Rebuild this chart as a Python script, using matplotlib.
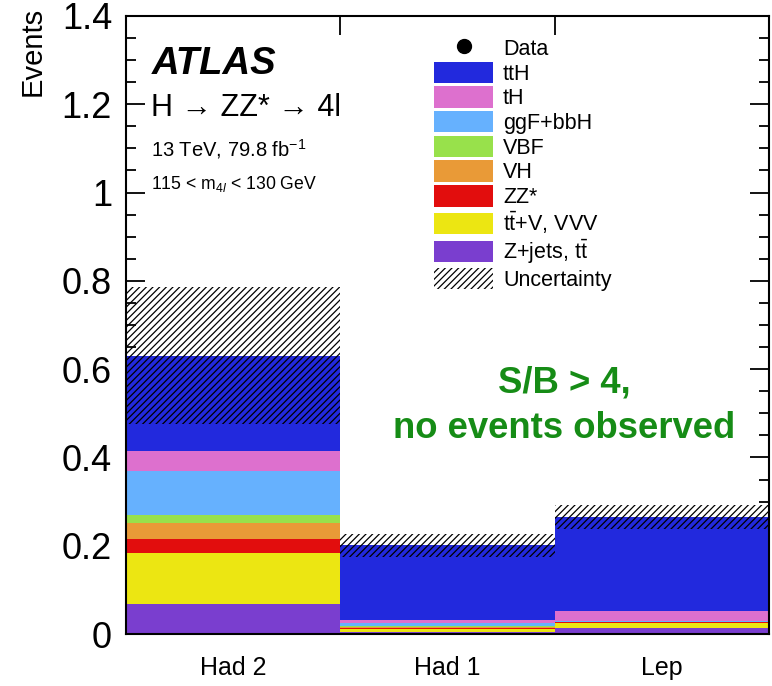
import matplotlib
matplotlib.use("Agg")
import matplotlib.pyplot as plt
import numpy as np
from matplotlib.patches import Patch
from matplotlib.lines import Line2D
from matplotlib.ticker import MultipleLocator, FixedLocator, FuncFormatter

plt.rcParams['font.family'] = ['Liberation Sans', 'DejaVu Sans']
plt.rcParams['mathtext.fontset'] = 'custom'
plt.rcParams['mathtext.rm'] = 'Liberation Sans'
plt.rcParams['mathtext.it'] = 'Liberation Sans:italic'
plt.rcParams['mathtext.bf'] = 'Liberation Sans:bold'
plt.rcParams['hatch.linewidth'] = 0.9

# Categories (bins)
categories = ["Had 2", "Had 1", "Lep"]

# Expected yields per process, stacked bottom to top
zjets_tt = [0.068, 0.004, 0.013]
ttv_vvv  = [0.115, 0.0074, 0.0113]
zz_star  = [0.033, 0.002, 0.0023]
vh       = [0.036, 0.0034, 0.0010]
vbf      = [0.018, 0.0010, 0.0007]
ggf_bbh  = [0.099, 0.0063, 0.0007]
th       = [0.045, 0.0077, 0.0240]
tth      = [0.216, 0.1687, 0.2120]

# Total uncertainty on the expectation
uncertainty = [0.155, 0.026, 0.028]

processes = [
    ("Z+jets, t$\\bar{\\mathrm{t}}$", zjets_tt, "#7a3ecf"),
    ("t$\\bar{\\mathrm{t}}$+V, VVV", ttv_vvv, "#ece612"),
    ("ZZ*", zz_star, "#e20d0d"),
    ("VH", vh, "#e99a37"),
    ("VBF", vbf, "#98e14b"),
    ("ggF+bbH", ggf_bbh, "#66b1fe"),
    ("tH", th, "#dd70ce"),
    ("ttH", tth, "#2229dd"),
]

HATCH = '/////'

W, H = 772, 686
fig = plt.figure(figsize=(W / 100, H / 100), dpi=100)
ax_l, ax_r, ax_t, ax_b = 126, 769, 16, 634
ax = fig.add_axes([ax_l / W, 1 - ax_b / H, (ax_r - ax_l) / W, (ax_b - ax_t) / H])

x = np.arange(len(categories))
bottom = np.zeros(len(categories))
for label, vals, color in processes:
    vals = np.array(vals)
    ax.bar(x, vals, width=1.0, bottom=bottom, align='edge', color=color,
           linewidth=0, zorder=2)
    bottom = bottom + vals

total = bottom
unc = np.array(uncertainty)
ax.bar(x, 2 * unc, width=1.0, bottom=total - unc, align='edge',
       facecolor='none', edgecolor='black', hatch=HATCH, linewidth=0, zorder=3)

ax.set_xlim(0, 3)
ax.set_ylim(0, 1.4)

# y axis ticks
ax.yaxis.set_major_locator(MultipleLocator(0.2))
ax.yaxis.set_minor_locator(MultipleLocator(0.05))
ax.yaxis.set_major_formatter(FuncFormatter(lambda v, p: "%g" % round(v, 2)))
ax.tick_params(axis='y', which='both', direction='in', left=True, right=True,
               labelsize=26, pad=10, width=1.3)
ax.tick_params(axis='y', which='major', length=13.5)
ax.tick_params(axis='y', which='minor', length=7)

# x axis: category labels at bin centres, ticks at bin edges
ax.xaxis.set_major_locator(FixedLocator(x + 0.5))
ax.set_xticklabels(categories)
ax.xaxis.set_minor_locator(FixedLocator([1, 2]))
ax.tick_params(axis='x', which='major', length=0, labelsize=18, pad=16)
ax.tick_params(axis='x', which='minor', direction='in', bottom=True, top=True,
               length=13.5, width=1.3)

for s in ax.spines.values():
    s.set_linewidth(1.5)
    s.set_zorder(5)

def fx(px):
    return px / W

def fy(py):
    return 1 - py / H

fig.text(fx(33), fy(7), "Events", rotation=90, ha='center', va='top', fontsize=21)

fig.text(fx(152), fy(74), "ATLAS", fontsize=27.5, fontweight='bold', style='italic',
         va='baseline', ha='left')
fig.text(fx(151), fy(116.5), "H \u2192 ZZ* \u2192 4l", fontsize=22, va='baseline', ha='left')
fig.text(fx(151), fy(156.5), "13 TeV, 79.8 fb$^{-1}$", fontsize=14.5, va='baseline', ha='left')
fig.text(fx(151), fy(189), "115 < m$_{4\\mathit{l}}$ < 130 GeV", fontsize=12.7,
         va='baseline', ha='left')

fig.text(fx(564), fy(393), "S/B > 4,", fontsize=26.3, fontweight='bold',
         color='#168c16', ha='center', va='baseline')
fig.text(fx(564), fy(438), "no events observed", fontsize=26.3, fontweight='bold',
         color='#168c16', ha='center', va='baseline')

# Legend
handles = [Line2D([], [], marker='o', color='black', linestyle='none', markersize=10)]
labels = ["Data"]
for label, vals, color in reversed(processes):
    handles.append(Patch(facecolor=color, edgecolor='none'))
    labels.append(label)
handles.append(Patch(facecolor='white', edgecolor='black', hatch=HATCH, linewidth=0))
labels.append("Uncertainty")

leg = ax.legend(handles, labels, loc='upper left',
                bbox_to_anchor=((434 - ax_l) / (ax_r - ax_l), (ax_b - 37) / (ax_b - ax_t)),
                frameon=False, fontsize=15.5, borderpad=0, borderaxespad=0,
                handlelength=2.75, handleheight=1.15, handletextpad=0.45,
                labelspacing=0.08)

fig.savefig("out.png", dpi=100)
